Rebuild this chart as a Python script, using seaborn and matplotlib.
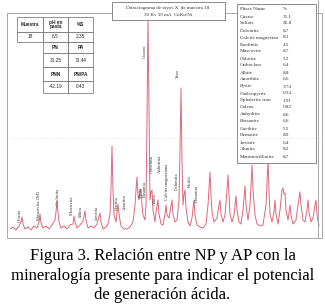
import numpy as np
import pandas as pd
import matplotlib
matplotlib.use("Agg")
import matplotlib.pyplot as plt
import seaborn as sns
from matplotlib.patches import Rectangle

# Diffractogram (2-theta in degrees, intensity in a.u.)
two_theta = [
    2.0, 2.6, 3.2, 3.8, 4.2, 4.4, 4.6, 5.0, 5.6, 6.2, 6.8, 7.4, 7.8, 8.0, 8.2, 8.6,
    9.2, 9.8, 10.4, 11.0, 11.2, 11.4, 11.6, 11.8, 12.2, 12.8, 13.4, 14.0, 14.6, 14.8,
    15.0, 15.4, 16.0, 16.6, 17.0, 17.2, 17.6, 18.2, 18.8, 19.4, 19.8, 20.0, 20.2, 20.6,
    21.2, 21.6, 22.0, 22.2, 22.4, 22.6, 22.8, 23.2, 23.4, 23.6, 23.8, 24.2, 24.8, 25.4,
    26.0, 26.6, 27.0, 27.2, 27.4, 27.6, 27.8, 28.0, 28.2, 28.4, 28.6, 29.0, 29.2, 29.4,
    29.6, 29.8, 30.0, 30.2, 30.4, 30.6, 31.0, 31.2, 31.6, 31.8, 32.2, 32.6, 33.0, 33.2,
    33.4, 33.8, 34.2, 34.4, 34.6, 35.0, 35.4, 35.8, 36.0, 36.2, 36.4, 36.6, 36.8, 37.0,
    37.2, 37.6, 38.0, 38.4, 38.8, 39.0, 39.4, 40.0, 40.6, 41.2, 41.6, 42.0, 42.2, 42.4,
    42.8, 43.4, 43.8, 44.0, 44.2, 44.6, 45.0, 45.4, 45.6, 45.8, 46.0, 46.4, 46.8, 47.2,
    47.4, 47.8, 48.2, 48.6, 49.0, 49.2, 49.6, 50.0, 50.4, 50.6, 51.0, 51.4, 52.0, 52.6,
    53.2, 53.6, 53.8, 54.0, 54.4, 54.8, 55.0, 55.2, 55.6, 56.0, 56.4, 56.6, 56.8, 57.0,
    57.2, 57.6, 58.0, 58.2, 58.6, 59.2, 59.6, 60.0, 60.2, 60.6, 61.0, 61.4, 61.6, 61.8,
    62.2, 62.6, 63.0, 63.2, 63.4, 63.8,
]
intensity = [
    5, 7, 4, 8, 12, 17, 10, 5, 7, 4, 8, 6, 12, 20, 11, 6,
    8, 5, 9, 14, 22, 32, 22, 12, 6, 8, 5, 9, 10, 18,
    12, 6, 9, 13, 23, 14, 6, 8, 6, 10, 18, 21, 12, 5,
    7, 10, 20, 46, 88, 44, 19, 12, 22, 30, 20, 8, 5, 5,
    7, 12, 29, 44, 57, 39, 34, 42, 45, 29, 19, 14, 29, 114,
    216, 124, 34, 42, 44, 24, 12, 22, 34, 20, 10, 9, 20, 29,
    19, 16, 28, 34, 20, 12, 14, 34, 84, 146, 74, 29, 39, 44,
    26, 12, 8, 16, 34, 19, 9, 7, 6, 10, 29, 62, 39, 22,
    12, 16, 29, 34, 20, 12, 19, 44, 59, 39, 20, 12, 19, 38,
    24, 12, 10, 24, 48, 29, 14, 29, 69, 44, 19, 10, 8, 9,
    29, 74, 44, 20, 12, 22, 34, 20, 10, 24, 44, 46, 40, 41,
    24, 14, 29, 19, 10, 14, 29, 42, 29, 14, 12, 24, 34, 22,
    12, 16, 29, 34, 19, 8,
]

# Phase labels drawn vertically over the pattern
peak_names = ["Clorita", "Moscovita 2M1", "Caolinita", "Moscovita", "Albita", "Jarosita",
              "Goetita", "Anortita", "Pirita", "Basanita", "Cuarzo", "Ortoclasa",
              "Anhidrita", "Albita", "Calcita magnesiana", "Yeso", "Dolomita",
              "Rutilo", "Hematita"]
peak_pos = [4.0, 7.8, 11.6, 14.4, 16.2, 19.4, 23.4, 25.0, 28.2, 28.9, 29.0, 30.4,
            32.0, 31.0, 33.4, 35.6, 35.4, 38.0, 39.4]
peak_base = [12, 14, 29, 19, 16, 14, 24, 24, 37, 37, 176, 61, 61, 29, 34, 156, 44, 47, 32]

# Sample table (top left)
tbl_rows = [
    ["Muestra", "pH en\npasta", "%S"],
    ["18", "6.5", "2.35"],
    ["", "PN", "PA"],
    ["", "31.25", "73.44"],
    ["", "PNN", "PN/PA"],
    ["", "-42.19", "0.43"],
]

# Phase quantification (right box)
phase_names = ["Phase Name", "Quartz", "Sulfate", "Dolomite", "Calcite magnesian",
               "Kaolinite", "Muscovite", "Chlorite", "Orthoclase", "Albite", "Anorthite",
               "Pyrite", "Chalcopyrite", "Sphalerite iron", "Galena", "Anhydrite",
               "Bassanite", "Goethite", "Hematite", "Jarosite", "Alunite", "Montmorillonite"]
phase_pct = ["%", "35.1", "26.8", "8.7", "8.1", "4.5", "8.7", "5.2", "6.4", "8.8", "6.6",
             "3.74", "0.34", "1.91", "0.82", "8.6", "6.6", "5.5", "8.9", "6.4", "8.2", "8.7"]

title_lines = ["Difractograma de rayos X  de muestra 18", "30 Kv 30 mA  CuK\u03b1/Ni"]
caption_lines = ["Figura 3. Relación entre NP y AP con la",
                 "mineralogía presente para indicar el potencial",
                 "de generación ácida."]

W, H = 325, 308
sns.set_style("white")
plt.rcParams["font.family"] = ["Liberation Serif", "DejaVu Serif"]

fig = plt.figure(figsize=(W / 100, H / 100), dpi=100)

# data axes: 2-theta 2..64 over x px 10..320, intensity 0 at y px 234
ax = fig.add_axes([10 / W, (H - 234) / H, 310 / W, 234 / H])
df = pd.DataFrame({"two_theta": two_theta, "intensity": intensity})
sns.lineplot(data=df, x="two_theta", y="intensity", estimator=None, sort=False,
             color="#e0667a", linewidth=0.7, ax=ax)
ax.set_xlim(2.0, 64.0)
ax.set_ylim(0, 234)
ax.axis("off")

for name, pos, base in zip(peak_names, peak_pos, peak_base):
    ax.text(pos, base, name, rotation=90, ha="center", va="bottom",
            fontsize=3.3, color="#333333")

# overlay in pixel coordinates for frame, boxes and tables
ov = fig.add_axes([0, 0, 1, 1], zorder=3)
ov.set_xlim(0, W)
ov.set_ylim(H, 0)
ov.axis("off")
ov.patch.set_alpha(0)

ov.add_patch(Rectangle((7, 13), 315, 225, fill=False, ec="#9a9a9a", lw=0.6))
ov.plot([318, 318], [0, 238], color="#9a9a9a", lw=0.6)
ov.plot([10, 320], [138, 138], color="#cccccc", lw=0.4, ls=":")

# title box
ov.add_patch(Rectangle((112, 2), 113, 18, fc="white", ec="#777777", lw=0.6))
for i, line in enumerate(title_lines):
    ov.text(168, 8 + i * 7, line, ha="center", va="center", fontsize=3.6, color="#333333")

# sample table
col_x = [17, 43, 68, 93]
row_y = [17, 32, 42, 53, 67, 81, 93]
for r, row in enumerate(tbl_rows):
    for c, val in enumerate(row):
        if r >= 2 and c == 0:
            continue
        ov.add_patch(Rectangle((col_x[c], row_y[r]), col_x[c + 1] - col_x[c],
                               row_y[r + 1] - row_y[r], fc="white", ec="#666666", lw=0.5))
        bold = r == 0 or r in (2, 4)
        ov.text((col_x[c] + col_x[c + 1]) / 2, (row_y[r] + row_y[r + 1]) / 2, val,
                ha="center", va="center", fontsize=3.4, family="Liberation Sans",
                fontweight="bold" if bold else "normal", color="#222222", linespacing=0.9)

# phase box
ov.add_patch(Rectangle((237, 4), 79, 159, fc="white", ec="#777777", lw=0.6))
for i, (n, p) in enumerate(zip(phase_names, phase_pct)):
    y = 9.5 + i * 7.0
    ov.text(240, y, n, ha="left", va="center", fontsize=3.7, color="#333333")
    ov.text(283, y, p, ha="left", va="center", fontsize=3.7, color="#333333")

for i, line in enumerate(caption_lines):
    fig.text(0.5, 1 - (256 + i * 19.5) / H, line, ha="center", va="center",
             fontsize=12, color="black")

fig.savefig("out.png", dpi=100)
